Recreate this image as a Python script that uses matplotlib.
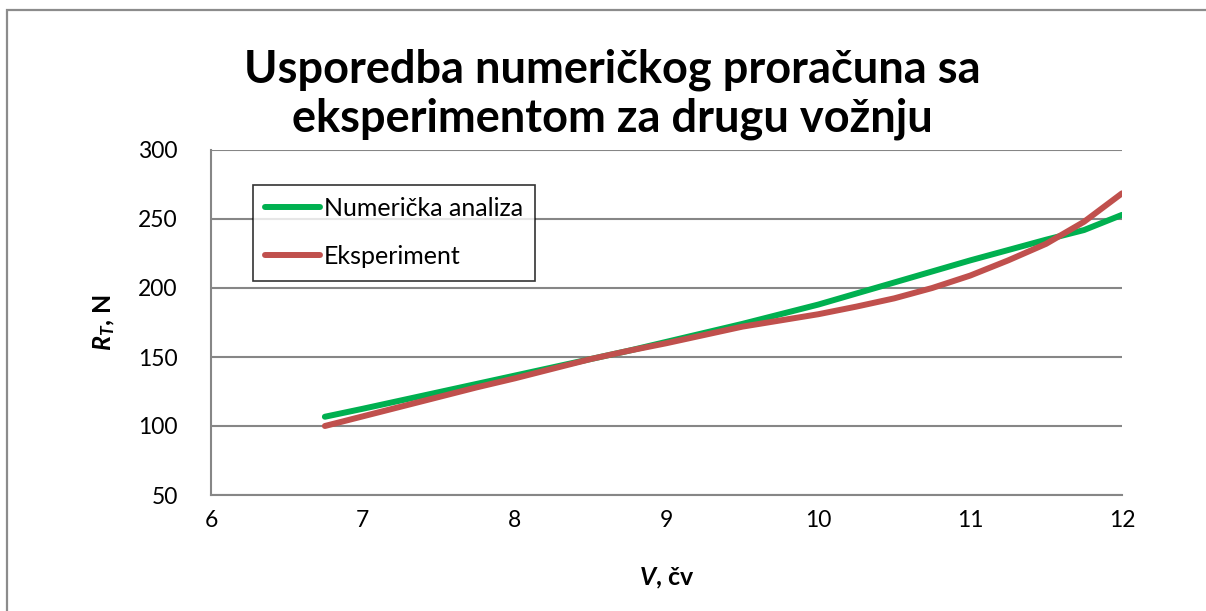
import matplotlib.pyplot as plt
from matplotlib.patches import Rectangle

# brzina broda, čv
speed = [6.75, 7.0, 7.25, 7.5, 7.75, 8.0, 8.25, 8.5, 8.75, 9.0, 9.25, 9.5, 9.75,
         10.0, 10.25, 10.5, 10.75, 11.0, 11.25, 11.5, 11.75, 12.0]
# otpor, N
numericka = [106.7, 112.5, 118.5, 124.5, 130.5, 136.5, 142.5, 148.5, 154.5, 161.0, 167.5,
             174.0, 181.0, 188.0, 196.0, 204.0, 212.0, 220.0, 227.5, 235.0, 242.0, 253.0]
eksperiment = [100.0, 107.0, 114.0, 121.0, 128.0, 134.5, 141.5, 148.5, 154.5, 160.0, 166.0,
               172.0, 176.5, 181.0, 186.5, 192.5, 200.0, 209.0, 220.0, 232.0, 248.0, 268.6]

x_ticks = [6, 7, 8, 9, 10, 11, 12]
y_ticks = [50, 100, 150, 200, 250, 300]

plt.rcParams['font.family'] = ['Lato', 'DejaVu Sans']
plt.rcParams['mathtext.fontset'] = 'custom'
plt.rcParams['mathtext.bfit'] = 'Lato:bold:italic'
plt.rcParams['mathtext.it'] = 'Lato:italic'

fig = plt.figure(figsize=(12.06, 6.11), dpi=100)
ax = fig.add_axes([211 / 1206, 1 - 495 / 611, 911 / 1206, 345 / 611])

# okvir oko cijelog dijagrama
fig.patches.append(Rectangle((7 / 1206, -0.5), 2.0, 1.5 - 10 / 611,
                             transform=fig.transFigure, fill=False,
                             edgecolor='#8c8c8c', linewidth=1.6))

ax.plot(speed, numericka, color='#00b050', linewidth=4.3,
        solid_capstyle='round', solid_joinstyle='round',
        label='Numerička analiza', zorder=3)
ax.plot(speed, eksperiment, color='#c0504d', linewidth=4.3,
        solid_capstyle='round', solid_joinstyle='round',
        label='Eksperiment', zorder=4)

ax.set_xlim(6, 12)
ax.set_ylim(50, 300)
ax.set_xticks(x_ticks)
ax.set_yticks(y_ticks)
ax.grid(axis='y', color='#868686', linewidth=1.5)
ax.set_axisbelow(True)
ax.tick_params(length=0, labelsize=16.5, pad=11)
ax.tick_params(axis='y', pad=24)

for side in ['top', 'right']:
    ax.spines[side].set_visible(False)
for side in ['left', 'bottom']:
    ax.spines[side].set_color('#868686')
    ax.spines[side].set_linewidth(1.5)

ax.set_xlabel(r'$\mathbfit{V}$, čv', fontsize=18, fontweight='bold', labelpad=25)
ax.set_ylabel(r'$\mathbfit{R}_{\mathbfit{T}}$, N', fontsize=18, fontweight='bold', labelpad=15)

fig.text(0.508, 1 - 94 / 611, 'Usporedba numeričkog proračuna sa\neksperimentom za drugu vožnju',
         ha='center', va='center', fontsize=32.5, fontweight='bold', linespacing=1.2)

leg = ax.legend(loc='upper left', bbox_to_anchor=(29 / 911, 1 - 22 / 345),
                fontsize=18, frameon=True, fancybox=False, handlelength=2.2,
                handletextpad=0.15, labelspacing=1.0, borderpad=0.5)
leg.get_frame().set_edgecolor('black')
leg.get_frame().set_linewidth(1.2)

fig.savefig('out.png', dpi=100, facecolor='white')
